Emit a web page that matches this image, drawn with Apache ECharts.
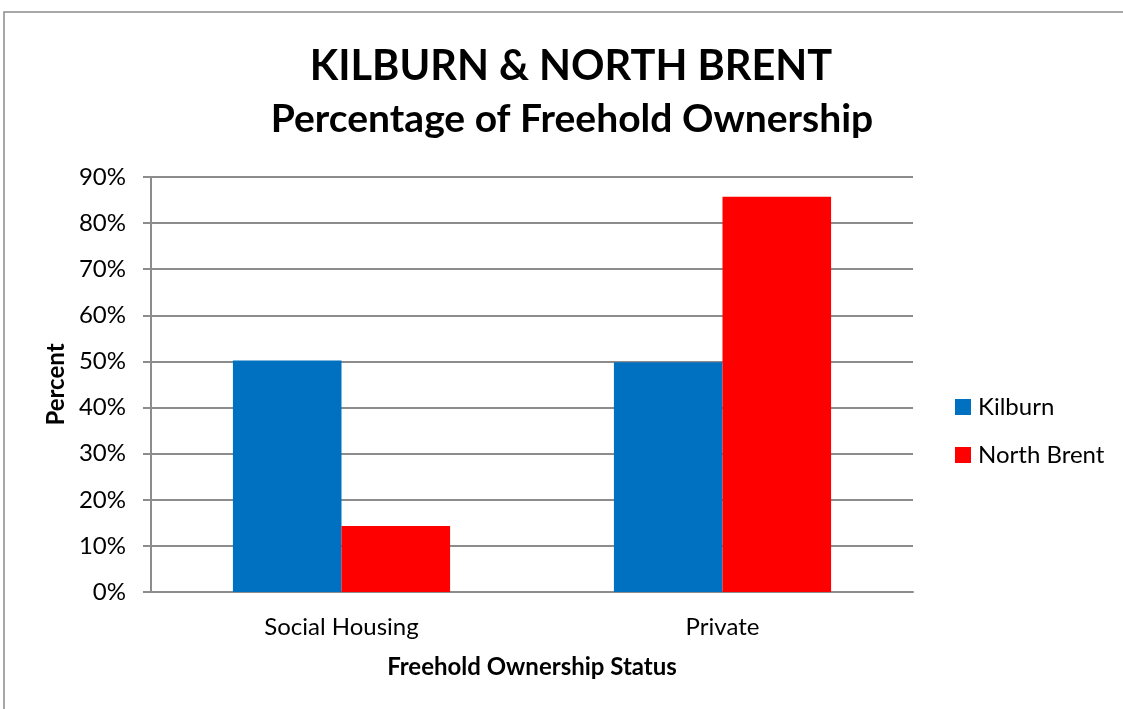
<!DOCTYPE html>
<html>
<head>
<meta charset="utf-8">
<title>Kilburn & North Brent - Freehold Ownership</title>
<script src="https://cdn.jsdelivr.net/npm/echarts@6/dist/echarts.min.js"></script>
<style>
  html, body { margin: 0; padding: 0; background: #ffffff; }
  #chart { width: 1123px; height: 709px; }
</style>
</head>
<body>
<div id="chart"></div>
<script>
// Freehold ownership status categories and the share held in each area (%)
const categories = ['Social Housing', 'Private'];
const kilburn = [50.2, 49.8];
const northBrent = [14.3, 85.7];
const yTicks = [0, 10, 20, 30, 40, 50, 60, 70, 80, 90];

const FONT = 'Lato, "Open Sans", sans-serif';
const chart = echarts.init(document.getElementById('chart'), null, { renderer: 'canvas' });

chart.setOption({
  backgroundColor: '#ffffff',
  animation: false,
  textStyle: { fontFamily: FONT, color: '#000000' },
  graphic: [
    {
      type: 'rect',
      shape: { x: 4, y: 12, width: 1140, height: 720 },
      style: { fill: 'none', stroke: '#8c8c8c', lineWidth: 1.5 },
      silent: true
    },
    {
      type: 'text',
      x: 571,
      y: 46,
      style: {
        text: 'KILBURN & NORTH BRENT',
        font: 'bold 41.5px ' + FONT,
        fill: '#000000',
        align: 'center',
        verticalAlign: 'top'
      }
    },
    {
      type: 'text',
      x: 572,
      y: 100,
      style: {
        text: 'Percentage of Freehold Ownership',
        font: 'bold 39px ' + FONT,
        fill: '#000000',
        align: 'center',
        verticalAlign: 'top'
      }
    }
  ],
  legend: {
    orient: 'vertical',
    left: 950,
    top: 390,
    itemWidth: 16,
    itemHeight: 16,
    itemGap: 24,
    icon: 'rect',
    textStyle: { fontSize: 24, fontFamily: FONT, color: '#000000', padding: [0, 0, 0, 2] },
    data: ['Kilburn', 'North Brent']
  },
  grid: {
    left: 151,
    right: 210,
    top: 177,
    bottom: 117,
    containLabel: false
  },
  xAxis: {
    type: 'category',
    data: categories,
    name: 'Freehold Ownership Status',
    nameLocation: 'middle',
    nameGap: 63,
    nameTextStyle: { fontSize: 24, fontWeight: 'bold', fontFamily: FONT, color: '#000000' },
    axisLine: { show: true, lineStyle: { color: '#8c8c8c', width: 2 } },
    axisTick: { show: false },
    axisLabel: { fontSize: 24, margin: 23, color: '#000000', fontFamily: FONT },
    splitLine: { show: false }
  },
  yAxis: {
    type: 'value',
    min: 0,
    max: 90,
    interval: 10,
    name: 'Percent',
    nameLocation: 'middle',
    nameGap: 80,
    nameRotate: 90,
    nameTextStyle: { fontSize: 24, fontWeight: 'bold', fontFamily: FONT, color: '#000000' },
    axisLine: { show: true, lineStyle: { color: '#8c8c8c', width: 2 } },
    axisTick: { show: true, inside: false, length: 8, lineStyle: { color: '#8c8c8c', width: 2 } },
    axisLabel: {
      fontSize: 24,
      margin: 25,
      color: '#000000',
      fontFamily: FONT,
      formatter: v => (yTicks.includes(v) ? v + '%' : '')
    },
    splitLine: { show: true, lineStyle: { color: '#8c8c8c', width: 2 } }
  },
  series: [
    {
      name: 'Kilburn',
      type: 'bar',
      data: kilburn,
      barGap: '0%',
      barCategoryGap: '43%',
      itemStyle: { color: '#0070c0' }
    },
    {
      name: 'North Brent',
      type: 'bar',
      data: northBrent,
      itemStyle: { color: '#ff0000' }
    }
  ]
});
</script>
</body>
</html>
